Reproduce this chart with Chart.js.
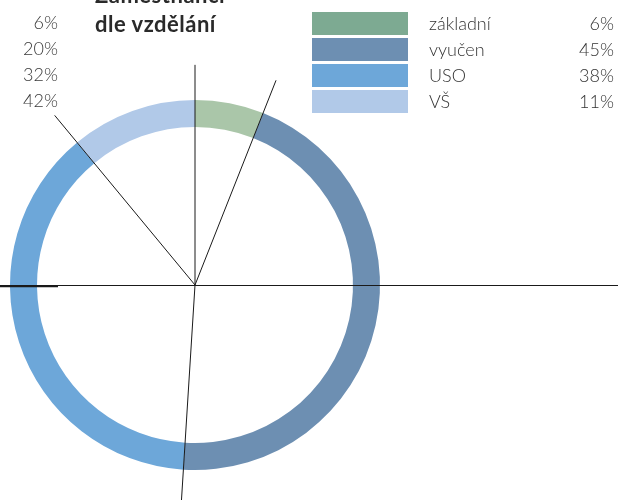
<!DOCTYPE html>
<html>
<head>
<meta charset="utf-8">
<script src="https://cdn.jsdelivr.net/npm/chart.js@4.4.0/dist/chart.umd.min.js"></script>
<style>
  html, body { margin:0; padding:0; background:#fff; }
  #wrap { position:relative; width:618px; height:500px; overflow:hidden; font-family:"Lato","Open Sans",sans-serif; }
  #c { position:absolute; left:0; top:0; }
  .t { position:absolute; white-space:nowrap; }
  #title { left:95px; top:-20px; font-weight:bold; font-size:22px; line-height:29px; letter-spacing:0.5px; color:#2a2a2a; }
  .lp { right:560px; font-size:18px; font-weight:300; color:#3a3a3a; line-height:20px; }
  .box { position:absolute; left:312px; width:96px; height:23px; }
  .ll { left:429px; font-size:18px; font-weight:300; color:#333; line-height:20px; }
  .lv { right:4px; font-size:18px; font-weight:300; color:#333; line-height:20px; }
</style>
</head>
<body>
<div id="wrap">
  <canvas id="c" width="618" height="500"></canvas>
  <div id="title" class="t">Zaměstnanci<br>dle vzdělání</div>
</div>
<script>
const categories = ["základní", "vyučen", "USO", "VŠ"];
const values = [6, 45, 38, 11];
const valueLabels = ["6%", "45%", "38%", "11%"];
const sideLabels = ["6%", "20%", "32%", "42%"];
const ringColors = ["#aac6a9", "#6d8fb2", "#6da7d9", "#b1c9e8"];
const legendColors = ["#7daa92", "#6d8fb2", "#6da7d9", "#b1c9e8"];

const wrap = document.getElementById('wrap');
sideLabels.forEach((s, i) => {
  const d = document.createElement('div');
  d.className = 't lp';
  d.style.top = (12 + i * 26) + 'px';
  d.textContent = s;
  wrap.appendChild(d);
});
categories.forEach((c, i) => {
  const b = document.createElement('div');
  b.className = 'box';
  b.style.top = (12 + i * 26) + 'px';
  b.style.background = legendColors[i];
  wrap.appendChild(b);
  const l = document.createElement('div');
  l.className = 't ll';
  l.style.top = (13 + i * 26) + 'px';
  l.textContent = c;
  wrap.appendChild(l);
  const v = document.createElement('div');
  v.className = 't lv';
  v.style.top = (13 + i * 26) + 'px';
  v.textContent = valueLabels[i];
  wrap.appendChild(v);
});

const linesPlugin = {
  id: 'boundaryLines',
  afterDatasetsDraw(chart) {
    const meta = chart.getDatasetMeta(0);
    const arc0 = meta.data[0];
    const cx = arc0.x, cy = arc0.y, R = arc0.outerRadius * 1.19;
    const ctx = chart.ctx;
    ctx.save();
    ctx.strokeStyle = '#1a1a1a';
    ctx.lineWidth = 1;
    meta.data.forEach(a => {
      ctx.beginPath();
      ctx.moveTo(cx, cy);
      ctx.lineTo(cx + R * Math.cos(a.startAngle), cy + R * Math.sin(a.startAngle));
      ctx.stroke();
    });
    ctx.beginPath();
    ctx.moveTo(0, cy + 0.5);
    ctx.lineTo(chart.width, cy + 0.5);
    ctx.stroke();
    ctx.lineWidth = 1.5;
    ctx.beginPath();
    ctx.moveTo(0, cy + 1.5);
    ctx.lineTo(58, cy + 1.5);
    ctx.stroke();
    ctx.restore();
  }
};

new Chart(document.getElementById('c'), {
  type: 'doughnut',
  data: {
    labels: categories,
    datasets: [{
      data: values,
      backgroundColor: ringColors,
      borderWidth: 0
    }]
  },
  options: {
    responsive: false,
    animation: false,
    cutout: '85.4%',
    layout: { padding: { left: 10, right: 238, top: 100, bottom: 30 } },
    plugins: { legend: { display: false }, tooltip: { enabled: false } }
  },
  plugins: [linesPlugin]
});
</script>
</body>
</html>
